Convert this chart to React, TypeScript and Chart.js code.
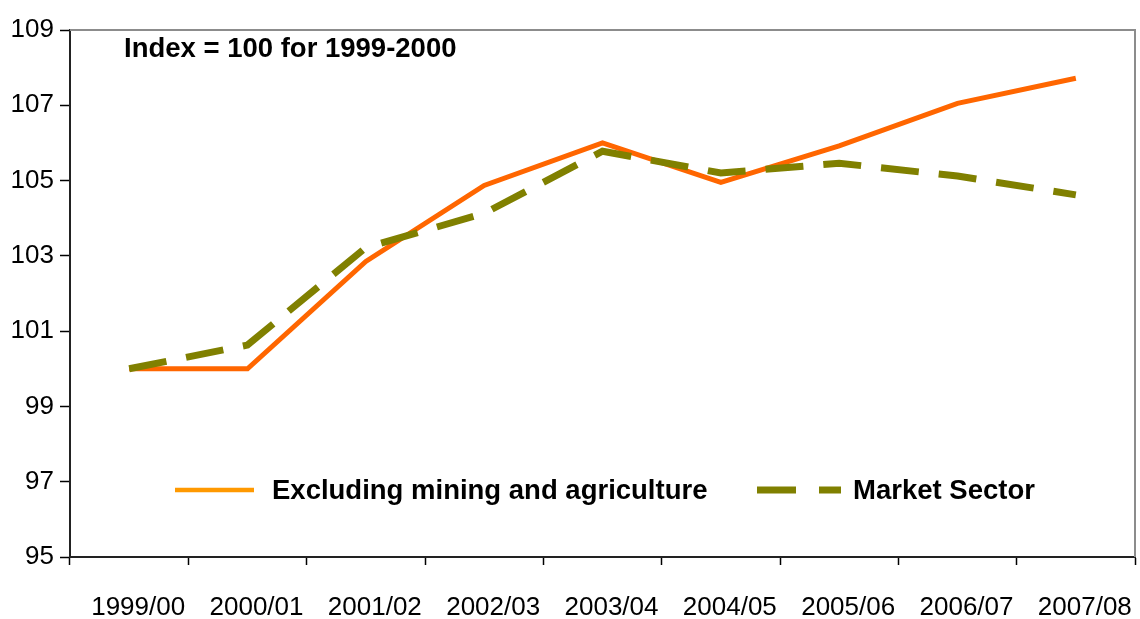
import React, { useEffect, useRef } from "react";
import { Chart, registerables } from "chart.js";

Chart.register(...registerables);

const categories = ["1999/00", "2000/01", "2001/02", "2002/03", "2003/04", "2004/05", "2005/06", "2006/07", "2007/08"];
const excludingMiningAgri = [100, 100, 102.85, 104.87, 106.0, 104.95, 105.92, 107.05, 107.72];
const marketSector = [100, 100.63, 103.22, 104.13, 105.78, 105.2, 105.46, 105.12, 104.62];
const titleText = "Index = 100 for 1999-2000";
const legendLabels = ["Excluding mining and agriculture", "Market Sector"];

const FONT = "'Liberation Sans', Arial, sans-serif";

const overlayPlugin = {
  id: "overlay",
  afterDraw(chart: any) {
    const { ctx, chartArea } = chart;
    const { left, top, right, bottom } = chartArea;
    ctx.save();
    // gray frame top & right
    ctx.strokeStyle = "#8c8c8c";
    ctx.lineWidth = 2;
    ctx.beginPath();
    ctx.moveTo(left, top);
    ctx.lineTo(right, top);
    ctx.lineTo(right, bottom);
    ctx.stroke();

    // title text
    ctx.fillStyle = "#000";
    ctx.font = `bold 27.5px ${FONT}`;
    ctx.textBaseline = "alphabetic";
    ctx.textAlign = "left";
    ctx.fillText(titleText, 124, 57);

    // legend
    const ly = 490;
    ctx.strokeStyle = "#FF9900";
    ctx.lineWidth = 4.5;
    ctx.setLineDash([]);
    ctx.beginPath();
    ctx.moveTo(175, ly);
    ctx.lineTo(254, ly);
    ctx.stroke();
    ctx.font = `bold 27.5px ${FONT}`;
    ctx.textBaseline = "middle";
    ctx.fillText(legendLabels[0], 272, ly + 1);

    ctx.strokeStyle = "#808000";
    ctx.lineWidth = 7;
    ctx.setLineDash([39, 23]);
    ctx.beginPath();
    ctx.moveTo(757, ly);
    ctx.lineTo(841, ly);
    ctx.stroke();
    ctx.setLineDash([]);
    ctx.fillText(legendLabels[1], 853, ly + 1);
    ctx.restore();
  },
};

export default function App() {
  const ref = useRef<HTMLCanvasElement>(null);
  useEffect(() => {
    document.body.style.margin = "0";
    const chart = new Chart(ref.current as HTMLCanvasElement, {
      type: "line",
      data: {
        labels: categories,
        datasets: [
          {
            label: legendLabels[1],
            data: marketSector,
            borderColor: "#808000",
            borderWidth: 7,
            borderDash: [38, 20],
            pointRadius: 0,
            tension: 0,
            order: 0,
            fill: false,
          },
          {
            label: legendLabels[0],
            data: excludingMiningAgri,
            borderColor: "#FF6600",
            borderWidth: 5,
            pointRadius: 0,
            tension: 0,
            order: 1,
            fill: false,
          },
        ],
      },
      options: {
        animation: false,
        responsive: false,
        maintainAspectRatio: false,
        layout: { padding: { top: 30, right: 5, left: 0, bottom: 0 } },
        plugins: {
          legend: { display: false },
          tooltip: { enabled: false },
          title: { display: false },
        },
        scales: {
          x: {
            type: "category",
            offset: true,
            grid: {
              offset: true,
              drawOnChartArea: false,
              drawTicks: true,
              tickLength: 8,
              tickColor: "#000",
              tickWidth: 1.5,
            },
            border: { display: true, color: "#222", width: 2 },
            ticks: {
              color: "#000",
              font: { family: FONT, size: 26 },
              padding: 27,
              maxRotation: 0,
              autoSkip: false,
              labelOffset: 9,
            },
            afterFit(scale: any) {
              scale.height = 62;
              scale.paddingRight = 0;
              scale.paddingLeft = 0;
            },
          },
          y: {
            min: 95,
            max: 109,
            grid: {
              drawOnChartArea: false,
              drawTicks: true,
              tickLength: 10,
              tickColor: "#000",
              tickWidth: 1.5,
            },
            border: { display: true, color: "#222", width: 2 },
            ticks: {
              stepSize: 2,
              color: "#000",
              font: { family: FONT, size: 26 },
              padding: 6,
            },
            afterFit(scale: any) {
              scale.width = 70;
              scale.paddingTop = 0;
              scale.paddingBottom = 0;
            },
          },
        },
      },
      plugins: [overlayPlugin],
    });
    return () => chart.destroy();
  }, []);
  return (
    <div style={{ width: 1140, height: 619, background: "#fff" }}>
      <canvas ref={ref} width={1140} height={619} style={{ display: "block" }} />
    </div>
  );
}
